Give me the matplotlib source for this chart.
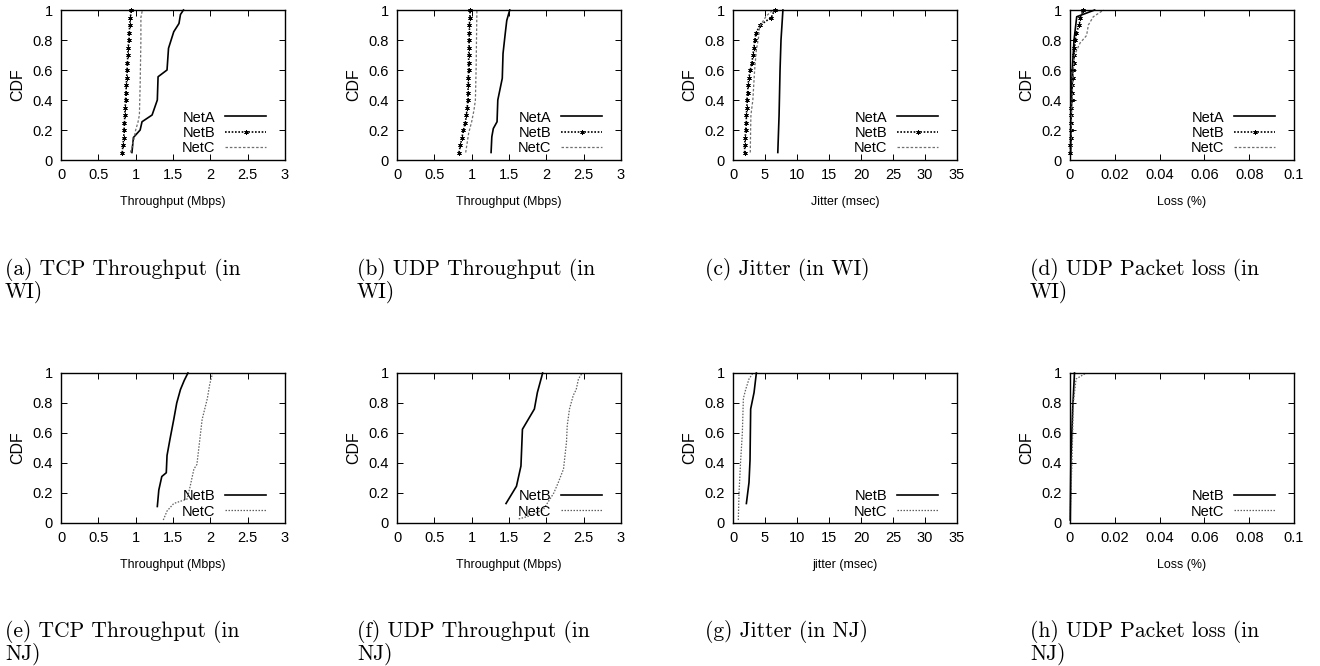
import matplotlib
matplotlib.use("Agg")
from matplotlib import pyplot as plt
from matplotlib.ticker import FuncFormatter, MultipleLocator

# ---- WI measurements (top row) ----
# TCP throughput (Mbps)
wi_tcp_neta_x = [0.95, 0.97, 1.06, 1.085, 1.22, 1.29, 1.30, 1.42, 1.44, 1.51, 1.58, 1.60, 1.64]
wi_tcp_neta_y = [0.05, 0.15, 0.20, 0.255, 0.30, 0.40, 0.555, 0.60, 0.745, 0.855, 0.91, 0.97, 1.0]
wi_tcp_netb_x = [0.82, 0.83, 0.84, 0.845, 0.85, 0.855, 0.86, 0.865, 0.87, 0.875,
                 0.88, 0.885, 0.89, 0.895, 0.90, 0.91, 0.915, 0.92, 0.93, 0.94]
wi_tcp_netb_y = [0.05, 0.10, 0.15, 0.20, 0.25, 0.30, 0.35, 0.40, 0.45, 0.50,
                 0.55, 0.60, 0.65, 0.70, 0.75, 0.80, 0.85, 0.90, 0.95, 1.0]
wi_tcp_netc_x = [0.93, 0.97, 1.00, 1.03, 1.05, 1.06, 1.07, 1.07, 1.09]
wi_tcp_netc_y = [0.05, 0.12, 0.20, 0.25, 0.30, 0.50, 0.80, 0.95, 1.0]

# UDP throughput (Mbps)
wi_udp_neta_x = [1.26, 1.27, 1.29, 1.34, 1.35, 1.41, 1.42, 1.45, 1.47, 1.51]
wi_udp_neta_y = [0.05, 0.155, 0.21, 0.255, 0.40, 0.545, 0.71, 0.845, 0.93, 1.0]
wi_udp_netb_x = [0.83, 0.85, 0.87, 0.89, 0.915, 0.93, 0.94, 0.95, 0.95, 0.955,
                 0.955, 0.96, 0.96, 0.96, 0.965, 0.965, 0.97, 0.97, 0.975, 0.98]
wi_udp_netb_y = [0.05, 0.10, 0.15, 0.20, 0.25, 0.30, 0.35, 0.40, 0.45, 0.50,
                 0.55, 0.60, 0.65, 0.70, 0.75, 0.80, 0.85, 0.90, 0.95, 1.0]
wi_udp_netc_x = [0.92, 0.96, 1.00, 1.03, 1.05, 1.06, 1.07]
wi_udp_netc_y = [0.05, 0.18, 0.255, 0.33, 0.40, 0.62, 1.0]

# Jitter (msec)
wi_jit_neta_x = [7.0, 7.2, 7.35, 7.5, 7.8]
wi_jit_neta_y = [0.05, 0.30, 0.60, 0.80, 1.0]
wi_jit_netb_x = [1.82, 1.82, 1.92, 1.98, 2.08, 2.08, 2.18, 2.18, 2.29, 2.34,
                 2.50, 2.70, 2.96, 3.12, 3.28, 3.38, 3.64, 4.26, 5.98, 6.50]
wi_jit_netb_y = [0.05, 0.10, 0.15, 0.20, 0.25, 0.30, 0.35, 0.40, 0.45, 0.50,
                 0.55, 0.60, 0.65, 0.70, 0.75, 0.80, 0.85, 0.90, 0.95, 1.0]
wi_jit_netc_x = [2.70, 2.75, 2.80, 3.10, 3.38, 3.64, 4.00, 4.16, 5.20, 6.24]
wi_jit_netc_y = [0.05, 0.20, 0.30, 0.40, 0.60, 0.73, 0.82, 0.89, 0.96, 1.0]

# UDP packet loss (%)
wi_loss_neta_x = [0.0003, 0.0005, 0.0010, 0.0018, 0.0030, 0.0110]
wi_loss_neta_y = [0.05, 0.30, 0.60, 0.80, 0.955, 1.0]
wi_loss_netb_x = [0.0002, 0.0002, 0.0003, 0.0003, 0.0004, 0.0005, 0.0006, 0.0008, 0.0009, 0.0010,
                  0.0012, 0.0014, 0.0016, 0.0018, 0.0020, 0.0024, 0.0028, 0.0042, 0.0045, 0.0060]
wi_loss_netb_y = [0.05, 0.10, 0.15, 0.20, 0.25, 0.30, 0.35, 0.40, 0.45, 0.50,
                  0.55, 0.60, 0.65, 0.70, 0.75, 0.80, 0.85, 0.90, 0.95, 1.0]
wi_loss_netc_x = [0.0004, 0.0008, 0.0015, 0.0020, 0.0045, 0.0074, 0.0082, 0.0104, 0.0150]
wi_loss_netc_y = [0.05, 0.35, 0.62, 0.70, 0.78, 0.83, 0.90, 0.955, 1.0]

# ---- NJ measurements (bottom row) ----
nj_tcp_netb_x = [1.29, 1.31, 1.35, 1.41, 1.42, 1.46, 1.51, 1.55, 1.60, 1.65, 1.70]
nj_tcp_netb_y = [0.11, 0.22, 0.31, 0.335, 0.45, 0.56, 0.69, 0.80, 0.89, 0.95, 1.0]
nj_tcp_netc_x = [1.37, 1.42, 1.51, 1.69, 1.73, 1.78, 1.82, 1.86, 1.89, 1.96, 1.99, 2.03]
nj_tcp_netc_y = [0.02, 0.08, 0.13, 0.16, 0.245, 0.36, 0.39, 0.56, 0.69, 0.83, 0.92, 1.0]

nj_udp_netb_x = [1.46, 1.60, 1.66, 1.68, 1.84, 1.88, 1.94, 1.95]
nj_udp_netb_y = [0.13, 0.245, 0.38, 0.625, 0.76, 0.87, 0.98, 1.0]
nj_udp_netc_x = [1.63, 1.76, 1.96, 2.10, 2.16, 2.23, 2.27, 2.28, 2.31, 2.36, 2.40, 2.43, 2.48]
nj_udp_netc_y = [0.027, 0.045, 0.09, 0.20, 0.27, 0.36, 0.54, 0.65, 0.76, 0.85, 0.89, 0.96, 1.0]

nj_jit_netb_x = [2.09, 2.50, 2.66, 2.76, 3.29, 3.65]
nj_jit_netb_y = [0.13, 0.27, 0.42, 0.76, 0.87, 1.0]
nj_jit_netc_x = [0.83, 0.94, 1.20, 1.46, 1.62, 1.98, 2.50, 3.13]
nj_jit_netc_y = [0.02, 0.20, 0.42, 0.60, 0.83, 0.89, 0.96, 1.0]

nj_loss_netb_x = [0.0001, 0.0004, 0.0012, 0.0020]
nj_loss_netb_y = [0.02, 0.42, 0.76, 1.0]
nj_loss_netc_x = [0.0000, 0.0009, 0.0015, 0.0027, 0.0072]
nj_loss_netc_y = [0.02, 0.42, 0.80, 0.96, 1.0]

captions_top = ["(a) TCP Throughput (in\nWI)", "(b) UDP Throughput (in\nWI)",
                "(c) Jitter (in WI)", "(d) UDP Packet loss (in\nWI)"]
captions_bot = ["(e) TCP Throughput (in\nNJ)", "(f) UDP Throughput (in\nNJ)",
                "(g) Jitter (in NJ)", "(h) UDP Packet loss (in\nNJ)"]
xlabels_top = ["Throughput (Mbps)", "Throughput (Mbps)", "Jitter (msec)", "Loss (%)"]
xlabels_bot = ["Throughput (Mbps)", "Throughput (Mbps)", "jitter (msec)", "Loss (%)"]
xlims = [3, 3, 35, 0.1]
xsteps = [0.5, 0.5, 5, 0.02]

plt.rcParams['font.family'] = ['Liberation Sans', 'DejaVu Sans']

W, H = 1320, 666
fig = plt.figure(figsize=(W / 100, H / 100), dpi=100)

lefts = [61, 397, 733, 1070]
aw, ah = 224, 150
tops = [10, 373]

style_a = dict(color='black', lw=1.2, ls='-')
style_b = dict(color='black', lw=1.2, ls=(0, (1, 1)), marker=(6, 2, 0), ms=3.2, mew=0.6)
style_c = dict(color='#707070', lw=0.9, ls=(0, (2, 1.5)))
style_b2 = dict(color='black', lw=1.2, ls='-')
style_c2 = dict(color='#606060', lw=0.9, ls=(0, (1.2, 1.2)))

top_series = [
    [(wi_tcp_neta_x, wi_tcp_neta_y), (wi_tcp_netb_x, wi_tcp_netb_y), (wi_tcp_netc_x, wi_tcp_netc_y)],
    [(wi_udp_neta_x, wi_udp_neta_y), (wi_udp_netb_x, wi_udp_netb_y), (wi_udp_netc_x, wi_udp_netc_y)],
    [(wi_jit_neta_x, wi_jit_neta_y), (wi_jit_netb_x, wi_jit_netb_y), (wi_jit_netc_x, wi_jit_netc_y)],
    [(wi_loss_neta_x, wi_loss_neta_y), (wi_loss_netb_x, wi_loss_netb_y), (wi_loss_netc_x, wi_loss_netc_y)],
]
bot_series = [
    [(nj_tcp_netb_x, nj_tcp_netb_y), (nj_tcp_netc_x, nj_tcp_netc_y)],
    [(nj_udp_netb_x, nj_udp_netb_y), (nj_udp_netc_x, nj_udp_netc_y)],
    [(nj_jit_netb_x, nj_jit_netb_y), (nj_jit_netc_x, nj_jit_netc_y)],
    [(nj_loss_netb_x, nj_loss_netb_y), (nj_loss_netc_x, nj_loss_netc_y)],
]

fmt = FuncFormatter(lambda v, p: '%g' % round(v, 6))


def setup(ax, col, xlabel):
    ax.set_xlim(0, xlims[col])
    ax.set_ylim(0, 1)
    ax.xaxis.set_major_locator(MultipleLocator(xsteps[col]))
    ax.yaxis.set_major_locator(MultipleLocator(0.2))
    ax.xaxis.set_major_formatter(fmt)
    ax.yaxis.set_major_formatter(fmt)
    ax.tick_params(direction='in', top=True, right=True, length=4, width=0.7,
                   labelsize=10.5, pad=6)
    for s in ax.spines.values():
        s.set_linewidth(1.0)
    ax.set_xlabel(xlabel, fontsize=8.9, labelpad=10)
    ax.set_ylabel('CDF', fontsize=11.5, labelpad=5)


for row, series in enumerate([top_series, bot_series]):
    for col in range(4):
        rect = [lefts[col] / W, 1 - (tops[row] + ah) / H, aw / W, ah / H]
        ax = fig.add_axes(rect)
        if row == 0:
            names = ['NetA', 'NetB', 'NetC']
            styles = [style_a, style_b, style_c]
            setup(ax, col, xlabels_top[col])
        else:
            names = ['NetB', 'NetC']
            styles = [style_b2, style_c2]
            setup(ax, col, xlabels_bot[col])
        for (xs, ys), name, st in zip(series[col], names, styles):
            ax.plot(xs, ys, label=name, clip_on=False, **st)
        ax.legend(loc='lower right', bbox_to_anchor=(0.915, 0.03), frameon=False,
                  markerfirst=False, fontsize=10.5, handlelength=2.8, handletextpad=0.7,
                  labelspacing=0.1, borderpad=0, borderaxespad=0, numpoints=1)

# subfigure captions
cap_x = [5, 357, 705, 1030]
for row, caps in enumerate([captions_top, captions_bot]):
    y0 = [258, 620][row]
    for col, text in enumerate(caps):
        fig.text(cap_x[col] / W, 1 - y0 / H, text, family='cmr10', fontsize=15.5,
                 ha='left', va='top', linespacing=1.0)

fig.savefig('out.png', dpi=100)
